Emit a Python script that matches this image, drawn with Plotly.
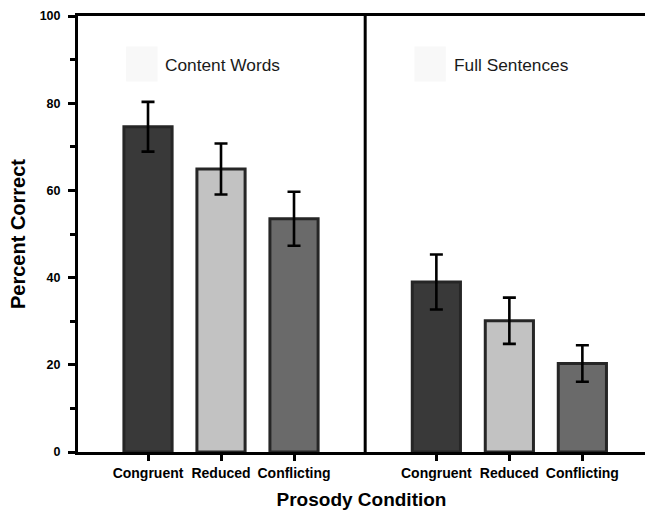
import plotly.graph_objects as go

# Mean percent correct (with error bars) for each prosody condition
conditions = ["Congruent", "Reduced", "Conflicting"]
groups = ["Content Words", "Full Sentences"]
content_words = [74.6, 64.9, 53.5]
content_words_err = [5.7, 5.85, 6.2]
full_sentences = [39.0, 30.1, 20.3]
full_sentences_err = [6.3, 5.3, 4.2]
bar_colors = ["#393939", "#c2c2c2", "#6a6a6a"]
y_ticks = [0, 20, 40, 60, 80, 100]

GROUP_STEP = 3.95  # distance between the first bars of the two panels
FONT = "Liberation Sans, Arial, sans-serif"

means = [content_words, full_sentences]
errs = [content_words_err, full_sentences_err]

fig = go.Figure()
tick_pos, tick_text = [], []
for ci, cond in enumerate(conditions):
    xs = [gi * GROUP_STEP + ci for gi in range(len(groups))]
    fig.add_trace(go.Bar(
        x=xs,
        y=[means[gi][ci] for gi in range(len(groups))],
        width=0.66,
        marker=dict(color=bar_colors[ci], line=dict(color="#262626", width=3)),
        error_y=dict(type="data", array=[errs[gi][ci] for gi in range(len(groups))],
                     color="black", thickness=2.6, width=6.5),
        name=cond,
        showlegend=False,
    ))
    tick_pos += xs
    tick_text += [cond] * len(groups)

# Vertical divider between the two panels
divider_x = (len(conditions) - 1 + GROUP_STEP) / 2
fig.add_shape(type="line", xref="x", yref="y", x0=divider_x, x1=divider_x,
              y0=0, y1=100, line=dict(color="black", width=3))

# Panel labels with a faint key square
for gi, label in enumerate(groups):
    x0 = gi * GROUP_STEP
    fig.add_shape(type="rect", xref="x", yref="y", x0=x0 - 0.3, x1=x0 + 0.13,
                  y0=85.0, y1=93.0, fillcolor="#f8f8f8", line=dict(width=0), layer="below")
    fig.add_annotation(x=x0 + 0.21, y=88.7, xref="x", yref="y", text=label,
                       showarrow=False, xanchor="left", yanchor="middle",
                       font=dict(family=FONT, size=17.3, color="#1a1a1a"))

fig.update_layout(
    width=645, height=513,
    margin=dict(l=78, r=0, t=16, b=61),
    paper_bgcolor="white", plot_bgcolor="white",
    bargap=0.3,
    xaxis=dict(
        range=[-0.959, 6.808], showgrid=False, zeroline=False,
        tickmode="array", tickvals=tick_pos, ticktext=tick_text,
        ticks="outside", ticklen=6, tickwidth=3, tickcolor="black",
        showline=True, linecolor="black", linewidth=3, mirror=True,
        tickfont=dict(family=FONT, size=14, color="black", weight="bold"),
        title=dict(text="<b>Prosody Condition</b>", standoff=13,
                   font=dict(family=FONT, size=19, color="black")),
    ),
    yaxis=dict(
        range=[0, 100], showgrid=False, zeroline=False,
        tickmode="array", tickvals=y_ticks,
        ticks="outside", ticklen=7, tickwidth=3, tickcolor="black",
        ticklabelstandoff=5,
        minor=dict(tickvals=[10, 30, 50, 70, 90], ticks="outside", ticklen=5,
                   tickwidth=3, tickcolor="black", showgrid=False),
        showline=True, linecolor="black", linewidth=3,
        tickfont=dict(family=FONT, size=12.5, color="black", weight="bold"),
        title=dict(text="<b>Percent Correct</b>", standoff=9,
                   font=dict(family=FONT, size=20, color="black")),
    ),
)

fig.write_html("out.html")
